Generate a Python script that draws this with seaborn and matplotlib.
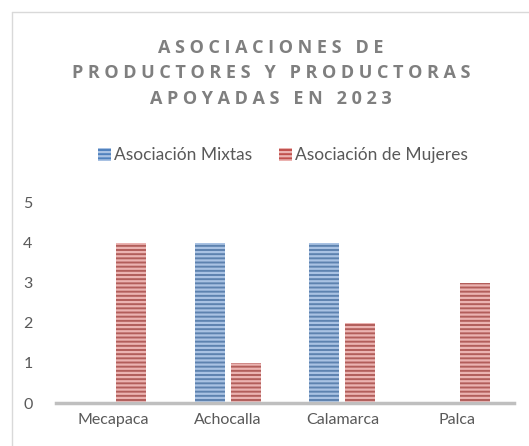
import numpy as np
import pandas as pd
import matplotlib as mpl
import matplotlib.pyplot as plt
import seaborn as sns
from matplotlib.patches import Rectangle

municipios = ["Mecapaca", "Achocalla", "Calamarca", "Palca"]
mixtas = [0, 4, 4, 0]
mujeres = [4, 1, 2, 3]
series = ["Asociación Mixtas", "Asociación de Mujeres"]

dat = pd.DataFrame({"Municipio": municipios * 2,
                    "Tipo": [series[0]] * 4 + [series[1]] * 4,
                    "n": mixtas + mujeres})

sns.set_theme(style="white")
plt.rcParams["font.family"] = ["Lato", "DejaVu Sans"]
plt.rcParams["hatch.linewidth"] = 1.6

fig = plt.figure(figsize=(5.29, 4.46), dpi=100)
ax = fig.add_axes([0.106, 0.0964, 0.866, 0.449])

face = ["#4F81BD", "#C0504D"]
light = ["#A9C2E3", "#EBB3B1"]
sns.barplot(data=dat, x="Municipio", y="n", hue="Tipo", palette=face,
            width=0.63, gap=0.17, ax=ax, legend=False)
for cont, lc in zip(ax.containers, light):
    for p in cont:
        p.set_hatch("----")
        p.set_edgecolor(lc)
        p.set_linewidth(0)

ax.set_ylim(0, 5)
ax.set_xlim(-0.5, 3.5)
ax.set_yticks(range(6))
ax.set_xlabel("")
ax.set_ylabel("")
sns.despine(ax=ax, left=True)
ax.spines["bottom"].set_color("#BFBFBF")
ax.spines["bottom"].set_linewidth(2.5)
ax.tick_params(axis="both", length=0, labelsize=11.5, labelcolor="#595959")
ax.tick_params(axis="y", pad=17)
ax.tick_params(axis="x", pad=7)

handles = [Rectangle((0, 0), 1, 1, facecolor=f, edgecolor=l, linewidth=0, hatch="----")
           for f, l in zip(face, light)]
fig.legend(handles, series, loc="center", bbox_to_anchor=(0.535, 0.652), ncol=2,
           frameon=False, fontsize=12.5, labelcolor="#595959", handlelength=0.75,
           handleheight=0.75, handletextpad=0.2, columnspacing=1.5)

title = ["ASOCIACIONES DE", "PRODUCTORES Y PRODUCTORAS", "APOYADAS EN 2023"]
for i, line in enumerate(title):
    spaced = "   ".join(" ".join(w) for w in line.split())
    fig.text(0.512, 1 - (48 + 25.5 * i) / 446, spaced, ha="center", va="center",
             fontsize=13, fontweight="bold", color="#7F7F7F",
             family=["Open Sans", "DejaVu Sans"])

# chart area border (cut at right/bottom like the source)
fig.add_artist(plt.Line2D([12 / 529, 12 / 529], [0, 1 - 12 / 446],
                          transform=fig.transFigure, color="#D9D9D9", lw=1))
fig.add_artist(plt.Line2D([12 / 529, 1], [1 - 12 / 446, 1 - 12 / 446],
                          transform=fig.transFigure, color="#D9D9D9", lw=1))

fig.savefig("out.png", dpi=100)
